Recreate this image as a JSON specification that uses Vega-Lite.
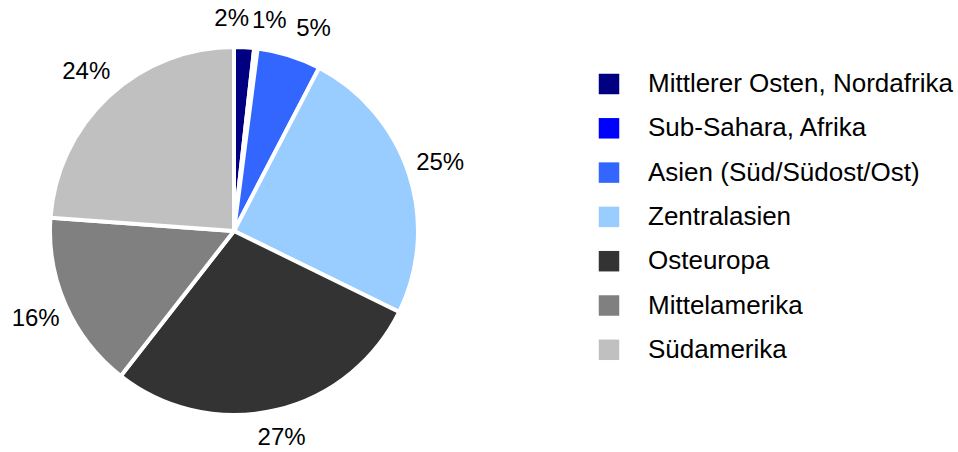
{
  "$schema": "https://vega.github.io/schema/vega-lite/v6.json",
  "width": 468,
  "height": 442,
  "autosize": {"type": "none"},
  "padding": {"left": 0, "top": 10, "right": 490, "bottom": 0},
  "background": "white",
  "config": {"view": {"stroke": null}, "font": "Liberation Sans"},
  "data": {
    "values": [
      {"n": 1, "region": "Mittlerer Osten, Nordafrika", "share": 1.75, "label": "2%"},
      {"n": 2, "region": "Sub-Sahara, Afrika", "share": 0.3, "label": "1%"},
      {"n": 3, "region": "Asien (Süd/Südost/Ost)", "share": 5.6, "label": "5%"},
      {"n": 4, "region": "Zentralasien", "share": 24.6, "label": "25%"},
      {"n": 5, "region": "Osteuropa", "share": 28.3, "label": "27%"},
      {"n": 6, "region": "Mittelamerika", "share": 15.6, "label": "16%"},
      {"n": 7, "region": "Südamerika", "share": 23.85, "label": "24%"}
    ]
  },
  "encoding": {
    "theta": {"field": "share", "type": "quantitative", "stack": true},
    "order": {"field": "n", "type": "quantitative"}
  },
  "layer": [
    {
      "mark": {"type": "arc", "outerRadius": 184, "stroke": "white", "strokeWidth": 4},
      "encoding": {
        "color": {
          "field": "region",
          "type": "nominal",
          "sort": null,
          "scale": {
            "domain": ["Mittlerer Osten, Nordafrika", "Sub-Sahara, Afrika", "Asien (Süd/Südost/Ost)", "Zentralasien", "Osteuropa", "Mittelamerika", "Südamerika"],
            "range": ["#000080", "#0000FF", "#3366FF", "#99CCFF", "#333333", "#808080", "#C0C0C0"]
          },
          "legend": {
            "title": null,
            "orient": "none",
            "legendX": 596,
            "legendY": 61,
            "symbolType": "square",
            "symbolSize": 420,
            "symbolStrokeWidth": 0,
            "labelFontSize": 26,
            "labelColor": "black",
            "labelFont": "Liberation Sans",
            "labelOffset": 26,
            "rowPadding": 18.3,
            "labelLimit": 400
          }
        }
      }
    },
    {
      "mark": {"type": "text", "radius": 217, "fontSize": 24, "font": "Liberation Sans", "color": "black", "baseline": "middle", "align": "center"},
      "encoding": {"text": {"condition": {"test": "datum.n > 3 && datum.n != 5", "field": "label"}, "value": ""}}
    },
    {
      "mark": {"type": "text", "radius": 212, "fontSize": 24, "font": "Liberation Sans", "color": "black", "baseline": "middle", "align": "center"},
      "encoding": {"text": {"condition": {"test": "datum.n == 5", "field": "label"}, "value": ""}}
    },
    {
      "mark": {"type": "text", "radius": 212, "dx": -14, "fontSize": 24, "font": "Liberation Sans", "color": "black", "baseline": "middle", "align": "center"},
      "encoding": {"text": {"condition": {"test": "datum.n == 1", "field": "label"}, "value": ""}}
    },
    {
      "mark": {"type": "text", "radius": 212, "dx": 10, "fontSize": 24, "font": "Liberation Sans", "color": "black", "baseline": "middle", "align": "center"},
      "encoding": {"text": {"condition": {"test": "datum.n == 2", "field": "label"}, "value": ""}}
    },
    {
      "mark": {"type": "text", "radius": 212, "dx": 16, "fontSize": 24, "font": "Liberation Sans", "color": "black", "baseline": "middle", "align": "center"},
      "encoding": {"text": {"condition": {"test": "datum.n == 3", "field": "label"}, "value": ""}}
    }
  ]
}
